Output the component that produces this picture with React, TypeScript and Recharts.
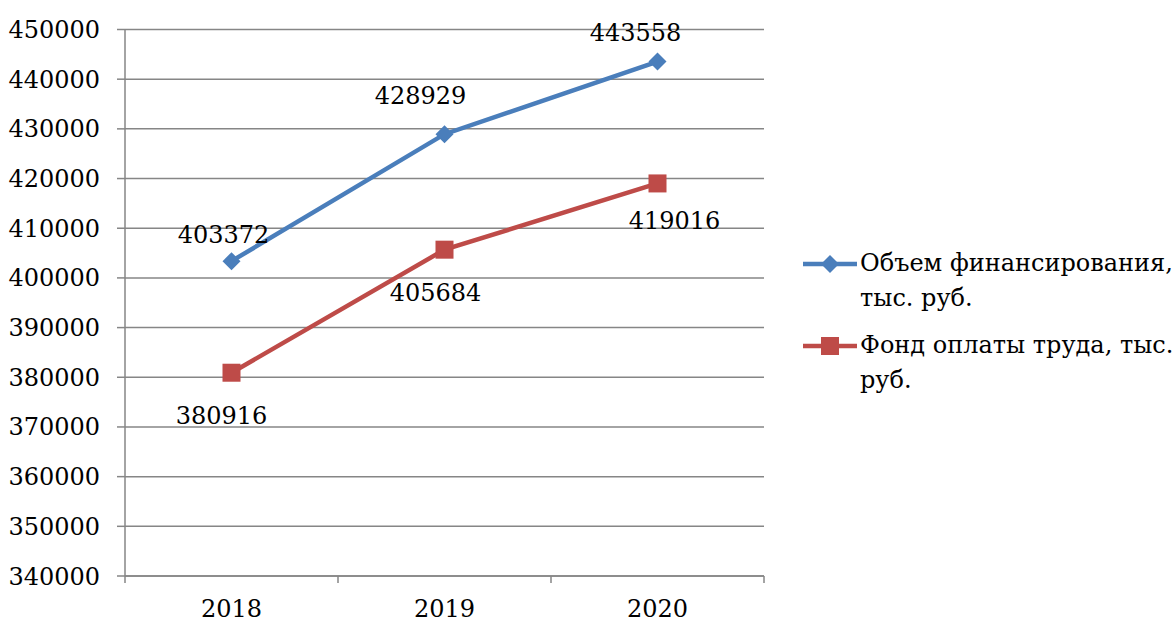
import React from 'react';
import { LineChart, Line, XAxis, YAxis, CartesianGrid, Legend, LabelList } from 'recharts';

const years = ['2018', '2019', '2020'];
const funding = [403372, 428929, 443558];
const payroll = [380916, 405684, 419016];
const yTicks = [340000, 350000, 360000, 370000, 380000, 390000, 400000, 410000, 420000, 430000, 440000, 450000];
const seriesNames = ['Объем финансирования, тыс. руб.', 'Фонд оплаты труда, тыс. руб.'];

const FONT = '"DejaVu Serif"';
const FS = 24;
const AXIS = '#868686';
const BLUE = '#4A7EBB';
const RED = '#BE4B48';

// x is numeric so the tick marks can sit on the category boundaries
const data = years.map((year, i) => ({ x: i + 0.5, year, funding: funding[i], payroll: payroll[i] }));
const xTicks = [0, 0.5, 1, 1.5, 2, 2.5, 3];

// per-point nudges of the value labels
const blueLabelShift = [[-8, -26], [-24, -38], [-22, -29]];
const redLabelShift = [[-10, 43], [-9, 43], [17, 38]];

const XTick = (props: any) => {
  const { x, y, payload } = props;
  const v = payload.value;
  if (Number.isInteger(v)) {
    return <line x1={x} x2={x} y1={y - 7} y2={y} stroke={AXIS} strokeWidth={1.5} />;
  }
  return (
    <text x={x} y={y + 34} textAnchor="middle" fontSize={FS} fontFamily={FONT} fill="#000">
      {years[Math.floor(v)]}
    </text>
  );
};

const Diamond = (props: any) => {
  const { cx, cy } = props;
  if (cx == null || cy == null) return null;
  const r = 9;
  return <path d={`M${cx},${cy - r}L${cx + r},${cy}L${cx},${cy + r}L${cx - r},${cy}Z`} fill={BLUE} />;
};

const Square = (props: any) => {
  const { cx, cy } = props;
  if (cx == null || cy == null) return null;
  const s = 9;
  return <rect x={cx - s} y={cy - s} width={s * 2} height={s * 2} fill={RED} />;
};

const makeLabel = (shift: number[][]) => (props: any) => {
  const { x, y, value, index } = props;
  const [dx, dy] = shift[index] || [0, 0];
  return (
    <text x={x + dx} y={y + dy} textAnchor="middle" dominantBaseline="central" fontSize={FS} fontFamily={FONT} fill="#000">
      {value}
    </text>
  );
};

const LegendContent = () => {
  const items = [
    { name: seriesNames[0], color: BLUE, shape: 'diamond' },
    { name: seriesNames[1], color: RED, shape: 'square' },
  ];
  return (
    <div style={{ fontFamily: FONT, fontSize: FS, lineHeight: '35px', color: '#000' }}>
      {items.map((it) => (
        <div key={it.name} style={{ display: 'flex', alignItems: 'flex-start', marginBottom: 12 }}>
          <svg width={60} height={35} style={{ flex: 'none' }}>
            <line x1={3} x2={57} y1={18} y2={18} stroke={it.color} strokeWidth={4.5} />
            {it.shape === 'diamond' ? (
              <path d="M30,9L39,18L30,27L21,18Z" fill={it.color} />
            ) : (
              <rect x={21} y={9} width={18} height={18} fill={it.color} />
            )}
          </svg>
          <span style={{ width: 316 }}>{it.name}</span>
        </div>
      ))}
    </div>
  );
};

export default function App() {
  return (
    <div style={{ position: 'absolute', left: 0, top: 0, width: 1176, height: 622, overflow: 'hidden', background: '#fff' }}>
      <LineChart width={1176} height={622} data={data} margin={{ top: 29.5, right: 36, bottom: 0, left: 0 }}>
        <CartesianGrid vertical={false} stroke={AXIS} strokeWidth={1.5} />
        <XAxis
          dataKey="x"
          type="number"
          domain={[0, 3]}
          ticks={xTicks}
          interval={0}
          height={46}
          tickLine={false}
          tickSize={7}
          tickMargin={0}
          stroke={AXIS}
          strokeWidth={1.5}
          tick={<XTick />}
        />
        <YAxis
          domain={[340000, 450000]}
          ticks={yTicks}
          interval={0}
          width={125}
          tickSize={8}
          tickMargin={17}
          stroke={AXIS}
          strokeWidth={1.5}
          tick={{ fontSize: FS, fill: '#000', fontFamily: FONT }}
        />
        <Legend
          layout="horizontal"
          verticalAlign="middle"
          align="right"
          content={<LegendContent />}
          wrapperStyle={{ left: 800, top: 246, width: 376 }}
        />
        <Line dataKey="funding" name={seriesNames[0]} stroke={BLUE} strokeWidth={4.5} dot={<Diamond />} isAnimationActive={false}>
          <LabelList dataKey="funding" content={makeLabel(blueLabelShift)} />
        </Line>
        <Line dataKey="payroll" name={seriesNames[1]} stroke={RED} strokeWidth={4.5} dot={<Square />} isAnimationActive={false}>
          <LabelList dataKey="payroll" content={makeLabel(redLabelShift)} />
        </Line>
      </LineChart>
    </div>
  );
}
